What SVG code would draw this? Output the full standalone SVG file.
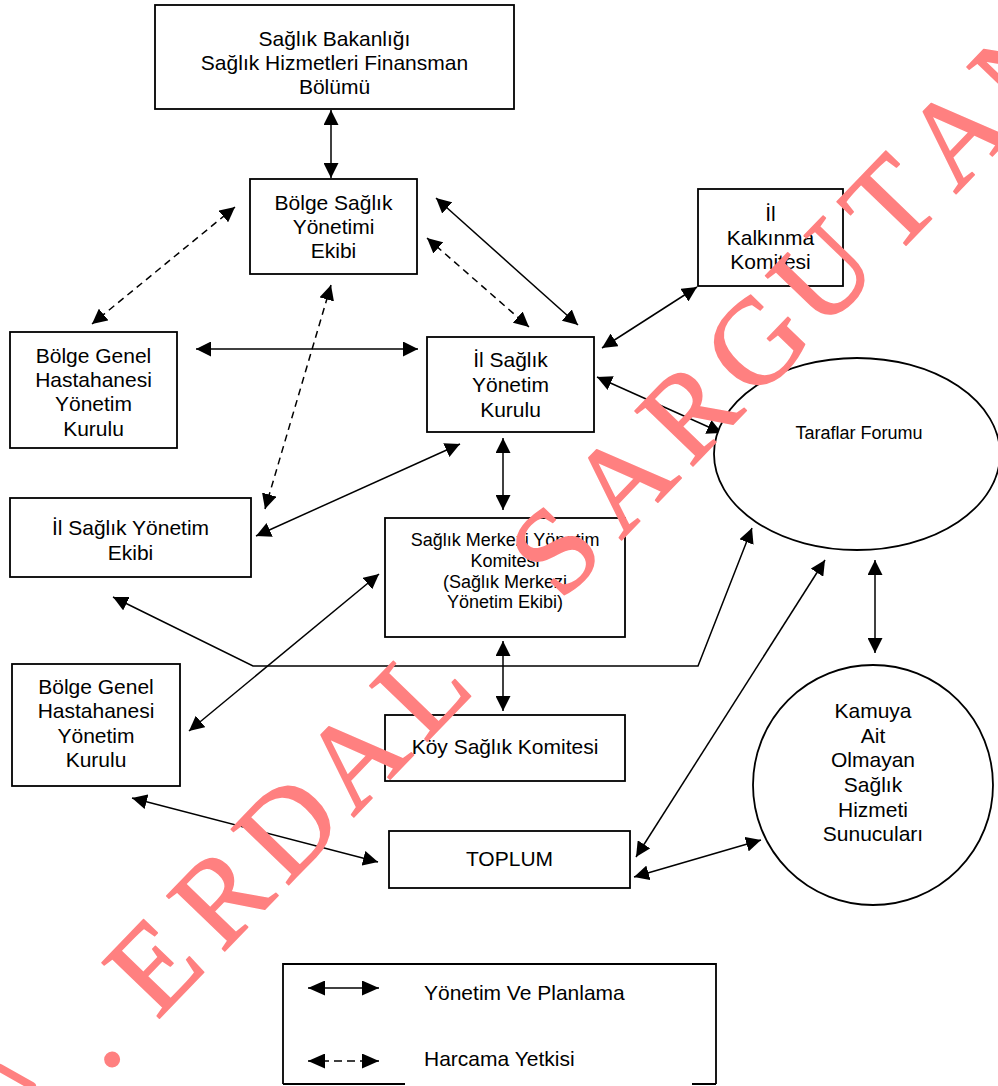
<svg xmlns="http://www.w3.org/2000/svg" width="998" height="1086" viewBox="0 0 998 1086">
<style>
.box{fill:#fff;stroke:#000;stroke-width:1.8}
.t{font-family:"Liberation Sans",Arial,sans-serif;font-size:21px;fill:#000;text-anchor:middle}
.ts{font-size:18px}
.c{fill:none;stroke:#000;stroke-width:1.5}
.d{stroke-dasharray:7 5}
.tl{text-anchor:start}
</style>
<defs>
<marker id="ah" viewBox="0 0 15 15" refX="15" refY="7.5" markerWidth="15" markerHeight="15" markerUnits="userSpaceOnUse" orient="auto-start-reverse"><path d="M0,0 L15,7.5 L0,15 z" fill="#000"/></marker>
<marker id="ahL" viewBox="0 0 17 15" refX="17" refY="7.5" markerWidth="17" markerHeight="15" markerUnits="userSpaceOnUse" orient="auto-start-reverse"><path d="M0,0 L17,7.5 L0,15 z" fill="#000"/></marker>
</defs>
<rect width="998" height="1086" fill="#fff"/>

<g id="connectors" class="c" marker-start="url(#ah)" marker-end="url(#ah)">
<line x1="331" y1="110" x2="331" y2="178"/>
<line class="d" x1="235" y1="207" x2="92" y2="324"/>
<line x1="436" y1="198" x2="578" y2="325"/>
<line class="d" x1="427" y1="238" x2="529" y2="327"/>
<line class="d" x1="331" y1="285" x2="265" y2="509"/>
<line x1="196" y1="349" x2="418" y2="349"/>
<line x1="602" y1="348" x2="697" y2="287"/>
<line x1="597" y1="377" x2="722" y2="433"/>
<line x1="503" y1="438" x2="503" y2="510"/>
<line x1="460" y1="444" x2="256" y2="536"/>
<line x1="503" y1="641" x2="503" y2="711"/>
<line x1="379" y1="574" x2="189" y2="731"/>
<polyline points="113,597 253,666 698,666 752,528"/>
<line x1="132" y1="798" x2="378" y2="862"/>
<line x1="825" y1="560" x2="636" y2="857"/>
<line x1="634" y1="877" x2="761" y2="840"/>
<line x1="875" y1="560" x2="875" y2="653"/>
</g>

<g id="n-bakanlik"><rect class="box" x="155" y="5" width="359" height="104"/>
<text class="t" x="334.5" y="46">Sağlık Bakanlığı</text>
<text class="t" x="334.5" y="70">Sağlık Hizmetleri Finansman</text>
<text class="t" x="334.5" y="94">Bölümü</text></g>

<g id="n-bolge-saglik"><rect class="box" x="250" y="179" width="167" height="95"/>
<text class="t" x="333.5" y="210">Bölge Sağlık</text>
<text class="t" x="333.5" y="234">Yönetimi</text>
<text class="t" x="333.5" y="258">Ekibi</text></g>

<g id="n-kalkinma"><rect class="box" x="698" y="189" width="145" height="97"/>
<text class="t" x="770.5" y="221">İl</text>
<text class="t" x="770.5" y="245">Kalkınma</text>
<text class="t" x="770.5" y="269">Komitesi</text></g>

<g id="n-bghyk1"><rect class="box" x="10" y="332" width="167" height="116"/>
<text class="t" x="93.5" y="363">Bölge Genel</text>
<text class="t" x="93.5" y="387">Hastahanesi</text>
<text class="t" x="93.5" y="411">Yönetim</text>
<text class="t" x="93.5" y="436">Kurulu</text></g>

<g id="n-isyk"><rect class="box" x="427" y="337" width="167" height="95"/>
<text class="t" x="510.5" y="367">İl Sağlık</text>
<text class="t" x="510.5" y="392">Yönetim</text>
<text class="t" x="510.5" y="417">Kurulu</text></g>

<g id="n-isye"><rect class="box" x="10" y="498" width="241" height="79"/>
<text class="t" x="130.5" y="535">İl Sağlık Yönetim</text>
<text class="t" x="130.5" y="560">Ekibi</text></g>

<g id="n-smyk"><rect class="box" x="385" y="518" width="240" height="119"/>
<text class="t ts" x="505" y="546">Sağlık Merkezi Yönetim</text>
<text class="t ts" x="505" y="567">Komitesi</text>
<text class="t ts" x="505" y="588">(Sağlık Merkezi</text>
<text class="t ts" x="505" y="608">Yönetim Ekibi)</text></g>

<g id="n-bghyk2"><rect class="box" x="12" y="664" width="168" height="122"/>
<text class="t" x="96" y="694">Bölge Genel</text>
<text class="t" x="96" y="718">Hastahanesi</text>
<text class="t" x="96" y="743">Yönetim</text>
<text class="t" x="96" y="767">Kurulu</text></g>

<g id="n-koy"><rect class="box" x="385" y="715" width="240" height="66"/>
<text class="t" x="505" y="754">Köy Sağlık Komitesi</text></g>

<g id="n-toplum"><rect class="box" x="389" y="831" width="241" height="57"/>
<text class="t" x="509.5" y="866">TOPLUM</text></g>

<g id="n-forum"><ellipse class="box" cx="857" cy="454" rx="143" ry="96"/>
<text class="t ts" x="859" y="439">Taraflar Forumu</text></g>

<g id="n-kamu"><circle class="box" cx="873" cy="785" r="120"/>
<text class="t" x="873" y="718">Kamuya</text>
<text class="t" x="873" y="743">Ait</text>
<text class="t" x="873" y="767">Olmayan</text>
<text class="t" x="873" y="792">Sağlık</text>
<text class="t" x="873" y="817">Hizmeti</text>
<text class="t" x="873" y="841">Sunucuları</text></g>

<g id="legend">
<rect x="283" y="964" width="433" height="120" fill="#fff"/>
<path d="M283,1084 L283,964 L716,964 L716,1084 M283,1084 L405,1084 M692,1084 L716,1084" fill="none" stroke="#000" stroke-width="1.8"/>
<line class="c" x1="308" y1="988" x2="379" y2="988" marker-start="url(#ahL)" marker-end="url(#ahL)"/>
<line class="c" x1="308" y1="1061" x2="379" y2="1061" stroke-dasharray="8 5" marker-start="url(#ahL)" marker-end="url(#ahL)"/>
<text class="t tl" x="424" y="1000">Yönetim Ve Planlama</text>
<text class="t tl" x="424" y="1066">Harcama Yetkisi</text>
</g>

<g id="watermark" fill="#FF8080" stroke="#FF8080" stroke-width="1.5" stroke-linejoin="round">
<line x1="0" y1="1068" x2="32" y2="1086" stroke-width="8" stroke-linecap="round"/>
<text transform="translate(183,994) rotate(-46)" font-family="Liberation Serif" font-size="122" text-anchor="middle" x="-96.3 0 96.3 192.6 288.9 385.2 481.5 577.8 674.1 770.4 866.7 963 1059.3 1155.6 1252" y="0">.ERDAL SARGUTAN</text>
</g>
</svg>
